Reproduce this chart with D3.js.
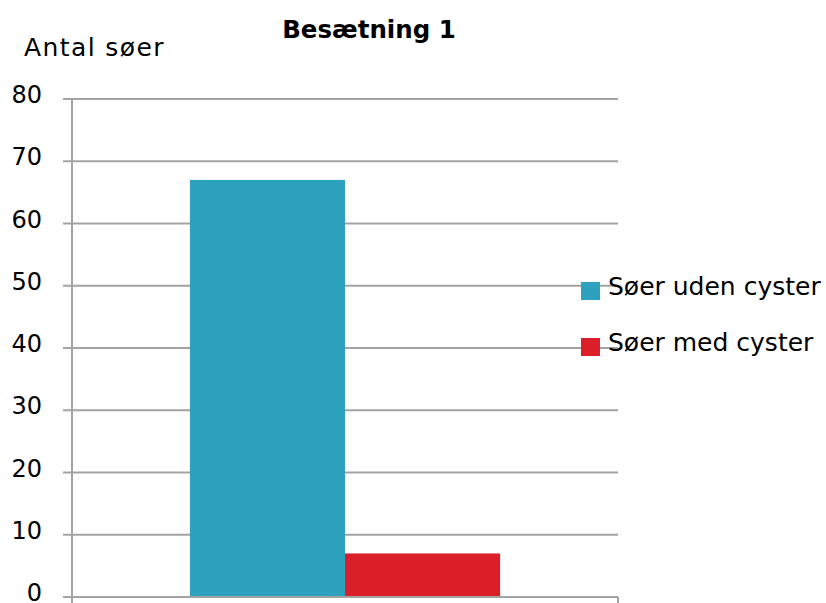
<!DOCTYPE html>
<html><head><meta charset="utf-8">
<script src="https://cdn.jsdelivr.net/npm/d3@7"></script>
<style>body{margin:0;background:#fff}svg{display:block}text{font-family:"DejaVu Sans",sans-serif}</style>
</head><body>
<svg id="c" width="826" height="603"></svg>
<script>
const categories = ["Besætning 1"];
const seriesNames = ["Søer uden cyster", "Søer med cyster"];
const seriesValues = [67, 7];
const seriesColors = ["#2ca2bf", "#db1f29"];
const yTicks = [0, 10, 20, 30, 40, 50, 60, 70, 80];

const svg = d3.select("#c");
const x0 = 72, x1 = 618, yTop = 99, yBot = 597;
const y = d3.scaleLinear().domain([0, 80]).range([yBot, yTop]);
const xb = d3.scaleBand().domain(categories).range([x0, x1]).paddingInner(0).paddingOuter(0.38);
const xs = d3.scaleBand().domain(seriesNames).range([0, xb.bandwidth()]).padding(0);

// grid
svg.append("g").selectAll("line").data(yTicks).join("line")
  .attr("x1", x0 - 9).attr("x2", x1).attr("y1", d => y(d)).attr("y2", d => y(d))
  .attr("stroke", "#a3a3a3").attr("stroke-width", 2);

// bars
svg.append("g").selectAll("rect").data(seriesValues).join("rect")
  .attr("x", (d, i) => xb(categories[0]) + xs(seriesNames[i]))
  .attr("width", xs.bandwidth())
  .attr("y", d => y(d)).attr("height", d => yBot - y(d))
  .attr("fill", (d, i) => seriesColors[i]);

// axes lines
svg.append("line").attr("x1", x0).attr("x2", x0).attr("y1", yTop).attr("y2", yBot + 6).attr("stroke", "#a3a3a3").attr("stroke-width", 2);
svg.append("line").attr("x1", x0 - 9).attr("x2", x1).attr("y1", yBot).attr("y2", yBot).attr("stroke", "#a3a3a3").attr("stroke-width", 2);
svg.append("line").attr("x1", x1).attr("x2", x1).attr("y1", yBot).attr("y2", yBot + 8).attr("stroke", "#a3a3a3").attr("stroke-width", 2);

// y labels
svg.append("g").selectAll("text").data(yTicks).join("text")
  .attr("x", 42).attr("y", d => y(d) + 4).attr("text-anchor", "end")
  .attr("font-size", 24).attr("fill", "#000").text(d => d);

// axis title
svg.append("text").attr("x", 24).attr("y", 56).attr("font-size", 25).attr("letter-spacing", 1.4).text("Antal søer");
// chart title
svg.append("text").attr("x", 369).attr("y", 38).attr("text-anchor", "middle")
  .attr("font-family", "'DejaVu Sans Condensed','DejaVu Sans',sans-serif")
  .attr("font-size", 24.5).attr("font-weight", "bold").text(categories[0]);

// legend
const lg = svg.append("g").selectAll("g").data(seriesNames).join("g")
  .attr("transform", (d, i) => `translate(581,${282 + i * 56})`);
lg.append("rect").attr("width", 19).attr("height", 18).attr("fill", (d, i) => seriesColors[i]);
lg.append("text").attr("x", 27).attr("y", 13).attr("font-size", 25).text(d => d);
</script>
</body></html>
